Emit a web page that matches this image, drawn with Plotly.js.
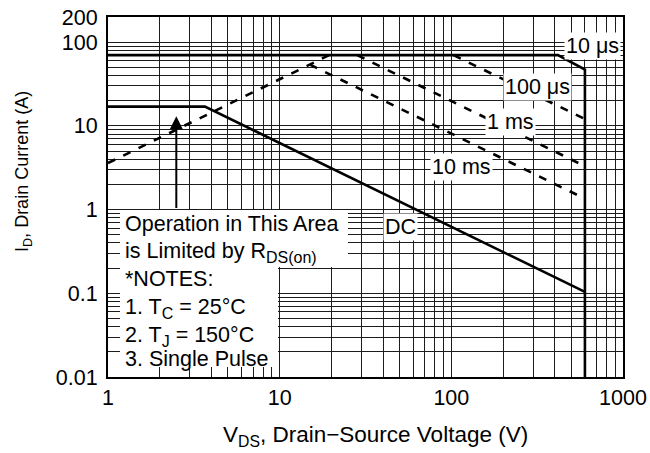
<!DOCTYPE html>
<html><head><meta charset="utf-8">
<script src="https://cdn.plot.ly/plotly-3.0.1.min.js"></script>
<style>html,body{margin:0;padding:0;background:#fff}#chart{width:650px;height:453px}</style>
</head><body><div id="chart"></div>
<script>
// ---- data (V in volts, I in amps) ----
const rdsV   = [1, 19.4];
const rdsI   = [3.6, 70];
const us10V  = [1, 418, 600, 600];
const us10I  = [70, 70, 47, 0.01];
const us100V = [103, 600];
const us100I = [70, 12.1];
const ms1V   = [28.3, 600];
const ms1I   = [70, 3.3];
const ms10V  = [15, 600];
const ms10I  = [54, 1.35];
const dcV    = [1, 3.67, 600];
const dcI    = [17, 17, 0.104];
const arrowV = 2.5;
const arrowI = [1, 13];

const xTickVals = [1, 10, 100, 1000];
const xTickText = ['1', '10', '100', '1000'];
const yTickVals = [0.01, 0.1, 1, 10, 100, 200];
const yTickText = ['0.01', '0.1', '1', '10', '100', '200'];
const curveLabels = ['10 μs', '100 μs', '1 ms', '10 ms', 'DC'];
const noteLines = ['Operation in This Area', 'is Limited by R<sub><span style="font-size:16px">DS(on)</span></sub>',
  '*NOTES:', '1. T<sub><span style="font-size:16px">C</span></sub> = 25°C',
  '2. T<sub><span style="font-size:16px">J</span></sub> = 150°C', '3. Single Pulse'];

// ---- grid positions (1..9 per decade) ----
function gridVals(fromExp, toExp) {
  const v = [];
  for (let e = fromExp; e < toExp; e++) for (let k = 1; k <= 9; k++) v.push(+(k * Math.pow(10, e)).toPrecision(3));
  return v;
}
const gx = gridVals(0, 3).concat([1000]);
const gy = gridVals(-2, 2).concat([100, 200]);

const FONT = 'Liberation Sans, Arial, Helvetica, sans-serif';
const FS = 21.5;
const L = 108, R = 623, T = 17, B = 377;
const px = x => (x - L) / (R - L);
const py = y => (B - y) / (B - T);

function line(x, y, dash) {
  return {x: x, y: y, type: 'scatter', mode: 'lines', hoverinfo: 'skip', showlegend: false,
    line: {color: '#000', width: 2.6, dash: dash || 'solid'}};
}
const traces = [
  line(us10V, us10I),
  line(dcV, dcI),
  line(rdsV, rdsI, '8px,9px'),
  line(us100V, us100I, '8px,9px'),
  line(ms1V, ms1I, '8px,9px'),
  line(ms10V, ms10I, '8px,9px')
];

function lab(text, cx, cy) {
  return {text: text, x: px(cx), y: py(cy), xref: 'paper', yref: 'paper', xanchor: 'center', yanchor: 'middle',
    showarrow: false, bgcolor: '#fff', borderpad: 1, font: {family: FONT, size: FS, color: '#000'}};
}
function note(text, cy) {
  return {text: text, x: px(123), y: py(cy), xref: 'paper', yref: 'paper', xanchor: 'left', yanchor: 'middle',
    align: 'left', showarrow: false, font: {family: FONT, size: FS, color: '#000'}};
}
const noteY = [224, 252, 279, 308, 336, 359];
const annotations = [
  lab(curveLabels[0], 592, 45.5),
  lab(curveLabels[1], 537, 87),
  lab(curveLabels[2], 510, 122),
  lab(curveLabels[3], 461.5, 167.5),
  lab(curveLabels[4], 400, 227)
].concat(noteLines.map((t, i) => note(t, noteY[i]))).concat([
  {text: '', x: Math.log10(arrowV), y: Math.log10(arrowI[1]), ax: Math.log10(arrowV), ay: Math.log10(arrowI[0]),
   xref: 'x', yref: 'y', axref: 'x', ayref: 'y', showarrow: true, arrowhead: 2, arrowsize: 1.3, arrowwidth: 2, arrowcolor: '#000'},
  {text: 'V<sub>DS</sub>, Drain\u2212Source Voltage (V)', x: px(375), y: py(436), xref: 'paper', yref: 'paper',
   xanchor: 'center', yanchor: 'middle', showarrow: false, font: {family: FONT, size: 22.5, color: '#000'}},
  {text: 'I<sub>D</sub>, Drain Current (A)', x: px(23), y: py(172), xref: 'paper', yref: 'paper', textangle: -90,
   xanchor: 'center', yanchor: 'middle', showarrow: false, font: {family: FONT, size: 18, color: '#000'}}
]);

const shapes = [
  {type: 'rect', xref: 'paper', yref: 'paper', x0: px(120), x1: px(348), y0: py(267), y1: py(210), fillcolor: '#fff', line: {width: 0}, layer: 'above'},
  {type: 'rect', xref: 'paper', yref: 'paper', x0: px(120), x1: px(278), y0: py(367), y1: py(267), fillcolor: '#fff', line: {width: 0}, layer: 'above'}
];

const GRID = '#1c1c1c';
const axisCommon = {
  type: 'log', tickmode: 'array', showgrid: true, gridcolor: GRID, gridwidth: 1,
  showline: true, linecolor: '#000', linewidth: 2, mirror: true, ticks: '', zeroline: false,
  tickfont: {family: FONT, size: FS, color: '#000'}, fixedrange: true
};
const layout = {
  width: 650, height: 453,
  margin: {l: L, r: 650 - R, t: T, b: 453 - B},
  paper_bgcolor: '#fff', plot_bgcolor: '#fff',
  font: {family: FONT, size: FS, color: '#000'},
  xaxis: Object.assign({}, axisCommon, {range: [0, 3], tickvals: xTickVals, ticktext: xTickText, ticklabelstandoff: 0,
    minor: {tickmode: 'array', tickvals: gx, showgrid: true, gridcolor: GRID, gridwidth: 1, ticks: ''}}),
  yaxis: Object.assign({}, axisCommon, {range: [-2, Math.log10(200)], tickvals: yTickVals, ticktext: yTickText, ticklabelstandoff: 4,
    minor: {tickmode: 'array', tickvals: gy, showgrid: true, gridcolor: GRID, gridwidth: 1, ticks: ''}}),
  annotations: annotations,
  shapes: shapes,
  showlegend: false
};
Plotly.newPlot('chart', traces, layout, {staticPlot: true, displayModeBar: false});
</script>
</body></html>
